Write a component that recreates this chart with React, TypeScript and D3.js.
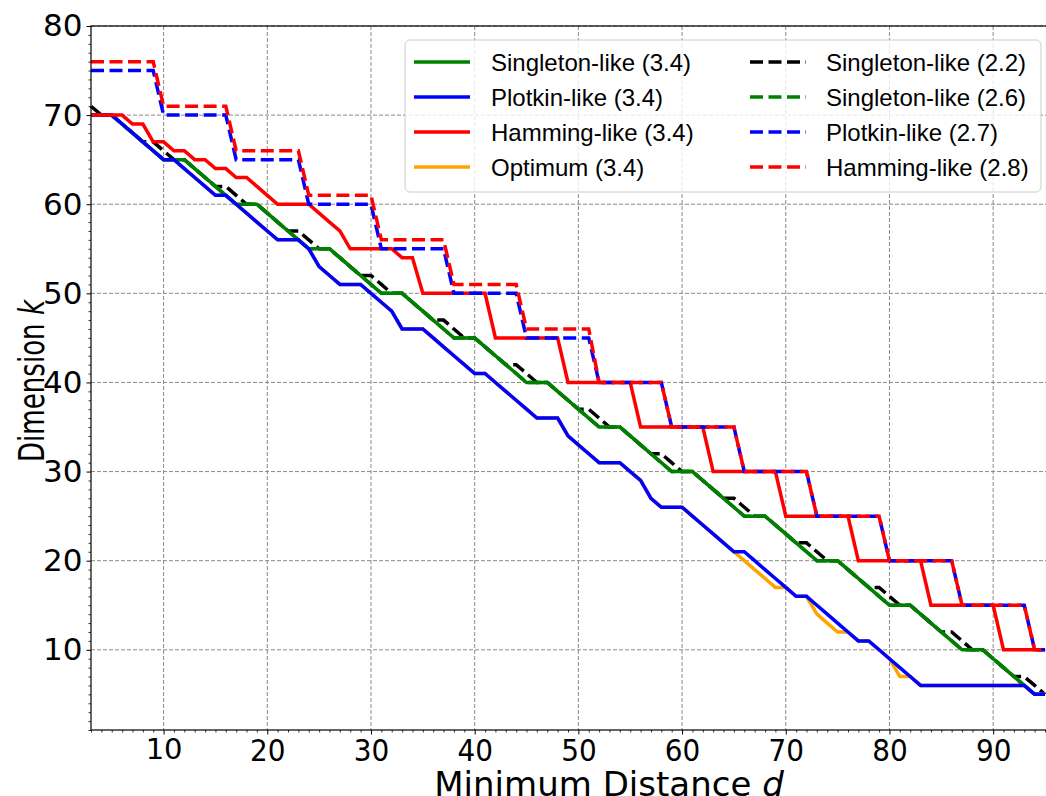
import React, { useEffect, useRef } from 'react';
import * as d3 from 'd3';

const width = 1046;
const height = 796;
const margin = { top: 26, left: 91, bottom: 730 };

// minimum distance d, one entry per point of every series
const distances = [
  3, 4, 5, 6, 7, 8, 9, 10, 11, 12, 13, 14, 15, 16, 17, 18, 19, 20, 21, 22, 23, 24, 25, 26, 27, 28, 29, 30, 31, 32,
  33, 34, 35, 36, 37, 38, 39, 40, 41, 42, 43, 44, 45, 46, 47, 48, 49, 50, 51, 52, 53, 54, 55, 56, 57, 58, 59, 60,
  61, 62, 63, 64, 65, 66, 67, 68, 69, 70, 71, 72, 73, 74, 75, 76, 77, 78, 79, 80, 81, 82, 83, 84, 85, 86, 87, 88,
  89, 90, 91, 92, 93, 94, 95
];

const singleton34 = [
  70, 70, 70, 69, 68, 67, 66, 65, 65, 65, 64, 63, 62, 61, 60, 60, 60, 59, 58, 57, 56, 55, 55, 55, 54, 53, 52, 51, 50, 50,
  50, 49, 48, 47, 46, 45, 45, 45, 44, 43, 42, 41, 40, 40, 40, 39, 38, 37, 36, 35, 35, 35, 34, 33, 32, 31, 30, 30,
  30, 29, 28, 27, 26, 25, 25, 25, 24, 23, 22, 21, 20, 20, 20, 19, 18, 17, 16, 15, 15, 15, 14, 13, 12, 11, 10, 10,
  10, 9, 8, 7, 6, 5, 5
];
const plotkin34 = [
  70, 70, 70, 69, 68, 67, 66, 65, 65, 64, 63, 62, 61, 61, 60, 59, 58, 57, 56, 56, 56, 55, 53, 52, 51, 51, 51, 50, 49, 48,
  46, 46, 46, 45, 44, 43, 42, 41, 41, 40, 39, 38, 37, 36, 36, 36, 34, 33, 32, 31, 31, 31, 30, 29, 27, 26, 26, 26,
  25, 24, 23, 22, 21, 21, 20, 19, 18, 17, 16, 16, 15, 14, 13, 12, 11, 11, 10, 9, 8, 7, 6, 6, 6, 6, 6, 6,
  6, 6, 6, 6, 6, 5, 5
];
const hamming34 = [
  70, 70, 70, 70, 69, 69, 67, 67, 66, 66, 65, 65, 64, 64, 63, 63, 62, 61, 60, 60, 60, 60, 59, 58, 57, 55, 55, 55, 55, 55,
  54, 54, 50, 50, 50, 50, 50, 50, 50, 45, 45, 45, 45, 45, 45, 45, 40, 40, 40, 40, 40, 40, 40, 35, 35, 35, 35, 35,
  35, 35, 30, 30, 30, 30, 30, 30, 30, 25, 25, 25, 25, 25, 25, 25, 20, 20, 20, 20, 20, 20, 20, 15, 15, 15, 15, 15,
  15, 15, 10, 10, 10, 10, 10
];
const optimum34 = [
  70, 70, 70, 69, 68, 67, 66, 65, 65, 64, 63, 62, 61, 61, 60, 59, 58, 57, 56, 56, 56, 55, 53, 52, 51, 51, 51, 50, 49, 48,
  46, 46, 46, 45, 44, 43, 42, 41, 41, 40, 39, 38, 37, 36, 36, 36, 34, 33, 32, 31, 31, 31, 30, 29, 27, 26, 26, 26,
  25, 24, 23, 22, 21, 20, 19, 18, 17, 17, 16, 16, 14, 13, 12, 12, 11, 11, 10, 9, 7, 7, 6, 6, 6, 6, 6, 6,
  6, 6, 6, 6, 6, 5, 5
];
const singleton22 = [
  71, 70, 70, 69, 68, 67, 67, 66, 65, 65, 64, 63, 62, 62, 61, 60, 60, 59, 58, 57, 57, 56, 55, 55, 54, 53, 52, 52, 51, 50,
  50, 49, 48, 47, 47, 46, 45, 45, 44, 43, 42, 42, 41, 40, 40, 39, 38, 37, 37, 36, 35, 35, 34, 33, 32, 32, 31, 30,
  30, 29, 28, 27, 27, 26, 25, 25, 24, 23, 22, 22, 21, 20, 20, 19, 18, 17, 17, 16, 15, 15, 14, 13, 12, 12, 11, 10,
  10, 9, 8, 7, 7, 6, 5
];
const singleton26 = [
  70, 70, 70, 69, 68, 67, 66, 65, 65, 65, 64, 63, 62, 61, 60, 60, 60, 59, 58, 57, 56, 55, 55, 55, 54, 53, 52, 51, 50, 50,
  50, 49, 48, 47, 46, 45, 45, 45, 44, 43, 42, 41, 40, 40, 40, 39, 38, 37, 36, 35, 35, 35, 34, 33, 32, 31, 30, 30,
  30, 29, 28, 27, 26, 25, 25, 25, 24, 23, 22, 21, 20, 20, 20, 19, 18, 17, 16, 15, 15, 15, 14, 13, 12, 11, 10, 10,
  10, 9, 8, 7, 6, 5, 5
];
const plotkin27 = [
  75, 75, 75, 75, 75, 75, 75, 70, 70, 70, 70, 70, 70, 70, 65, 65, 65, 65, 65, 65, 65, 60, 60, 60, 60, 60, 60, 60, 55, 55,
  55, 55, 55, 55, 55, 50, 50, 50, 50, 50, 50, 50, 45, 45, 45, 45, 45, 45, 45, 40, 40, 40, 40, 40, 40, 40, 35, 35,
  35, 35, 35, 35, 35, 30, 30, 30, 30, 30, 30, 30, 25, 25, 25, 25, 25, 25, 25, 20, 20, 20, 20, 20, 20, 20, 15, 15,
  15, 15, 15, 15, 15, 10, 10
];
const hamming28 = [
  76, 76, 76, 76, 76, 76, 76, 71, 71, 71, 71, 71, 71, 71, 66, 66, 66, 66, 66, 66, 66, 61, 61, 61, 61, 61, 61, 61, 56, 56,
  56, 56, 56, 56, 56, 51, 51, 51, 51, 51, 51, 51, 46, 46, 46, 46, 46, 46, 46, 40, 40, 40, 40, 40, 40, 40, 35, 35,
  35, 35, 35, 35, 35, 30, 30, 30, 30, 30, 30, 30, 25, 25, 25, 25, 25, 25, 25, 20, 20, 20, 20, 20, 20, 20, 15, 15,
  15, 15, 15, 15, 15, 10, 10
];

const xTicks = [10, 20, 30, 40, 50, 60, 70, 80, 90];
const yTicks = [10, 20, 30, 40, 50, 60, 70, 80];

// drawing order (bottom to top)
const series = [
  { name: 'Singleton-like (2.2)', values: singleton22, color: 'black', dashed: true },
  { name: 'Singleton-like (2.6)', values: singleton26, color: 'green', dashed: true },
  { name: 'Optimum (3.4)', values: optimum34, color: 'orange', dashed: false },
  { name: 'Singleton-like (3.4)', values: singleton34, color: 'green', dashed: false },
  { name: 'Plotkin-like (3.4)', values: plotkin34, color: 'blue', dashed: false },
  { name: 'Hamming-like (3.4)', values: hamming34, color: 'red', dashed: false },
  { name: 'Plotkin-like (2.7)', values: plotkin27, color: 'blue', dashed: true },
  { name: 'Hamming-like (2.8)', values: hamming28, color: 'red', dashed: true }
];

const legendCol1 = ['Singleton-like (3.4)', 'Plotkin-like (3.4)', 'Hamming-like (3.4)', 'Optimum (3.4)'];
const legendCol2 = ['Singleton-like (2.2)', 'Singleton-like (2.6)', 'Plotkin-like (2.7)', 'Hamming-like (2.8)'];

const lineWidth = 3.5;
const dash = '13,5.5';
const sansFont = '"Liberation Sans", Arial, sans-serif';
const narrowFont = '"Liberation Sans Narrow", "DejaVu Sans Condensed", sans-serif';
const dejavuFont = '"DejaVu Sans", sans-serif';

const x = d3.scaleLinear().domain([3, 95]).range([margin.left, 1045]);
const y = d3.scaleLinear().domain([1, 80]).range([margin.bottom, margin.top]);

export default function App() {
  const xAxisRef = useRef<SVGGElement>(null);
  const xMinorRef = useRef<SVGGElement>(null);
  const yAxisRef = useRef<SVGGElement>(null);
  const yMinorRef = useRef<SVGGElement>(null);

  useEffect(() => {
    const xAxis = d3.axisBottom(x).tickValues(xTicks).tickSize(4.5).tickPadding(4).tickFormat(d3.format('d'));
    d3.select(xAxisRef.current)
      .call(xAxis)
      .attr('font-family', narrowFont)
      .attr('font-size', 31)
      .call(g => g.select('.domain').remove())
      .call(g => g.selectAll('line').attr('stroke-width', 1));
    d3.select(xAxisRef.current)
      .selectAll<SVGTextElement, number>('text')
      .attr('fill', '#000')
      .style('font-stretch', 'condensed')
      .filter(d => d === 10)
      .attr('font-family', dejavuFont)
      .attr('font-size', 29)
      .style('font-stretch', 'normal');

    const xMinor = d3.axisBottom(x).tickValues(distances.filter(d => d % 10 !== 0)).tickSize(2.5).tickFormat(() => '');
    d3.select(xMinorRef.current)
      .call(xMinor)
      .call(g => g.select('.domain').remove())
      .call(g => g.selectAll('line').attr('stroke-width', 0.8));

    const yAxis = d3.axisLeft(y).tickValues(yTicks).tickSize(4.5).tickPadding(4).tickFormat(d3.format('d'));
    d3.select(yAxisRef.current)
      .call(yAxis)
      .attr('font-family', dejavuFont)
      .attr('font-size', 31)
      .call(g => g.select('.domain').remove())
      .call(g => g.selectAll('line').attr('stroke-width', 1));
    d3.select(yAxisRef.current).selectAll('text').attr('fill', '#000');

    const yMinor = d3.axisLeft(y).tickValues(d3.range(1, 81).filter(v => v % 10 !== 0)).tickSize(2.5).tickFormat(() => '');
    d3.select(yMinorRef.current)
      .call(yMinor)
      .call(g => g.select('.domain').remove())
      .call(g => g.selectAll('line').attr('stroke-width', 0.8));
  }, []);

  const line = (values: number[]) =>
    d3
      .line<number>()
      .x((_, i) => x(distances[i]))
      .y(v => y(v))(values) || '';

  const legendRow = (i: number) => 62 + i * 35;

  return (
    <svg width={width} height={height} style={{ position: 'absolute', left: 0, top: 0, background: '#fff' }}>
      <rect x={0} y={0} width={width} height={height} fill="#fff" />
      {/* grid */}
      <g stroke="#8a8a8a" strokeWidth={1} strokeDasharray="4,2">
        {xTicks.map(t => (
          <line key={'gx' + t} x1={x(t)} x2={x(t)} y1={margin.top} y2={margin.bottom} />
        ))}
        {yTicks.map(t => (
          <line key={'gy' + t} x1={margin.left} x2={width} y1={y(t)} y2={y(t)} />
        ))}
      </g>

      {/* series */}
      <g fill="none" strokeLinejoin="miter" strokeLinecap="butt">
        {series.map(s => (
          <path
            key={s.name}
            d={line(s.values)}
            stroke={s.color}
            strokeWidth={lineWidth}
            strokeDasharray={s.dashed ? dash : undefined}
          />
        ))}
      </g>

      {/* frame */}
      <rect x={margin.left} y={margin.top} width={1200} height={margin.bottom - margin.top} fill="none" stroke="#000" strokeWidth={1.2} />

      <g ref={xAxisRef} transform={`translate(0,${margin.bottom})`} />
      <g ref={xMinorRef} transform={`translate(0,${margin.bottom})`} />
      <g ref={yAxisRef} transform={`translate(${margin.left},0)`} />
      <g ref={yMinorRef} transform={`translate(${margin.left},0)`} />

      {/* axis labels */}
      <text x={609} y={796} textAnchor="middle" fontFamily={dejavuFont} fontSize={34} fill="#000">
        Minimum Distance <tspan fontStyle="italic">d</tspan>
      </text>
      <text
        transform={`translate(44,${(margin.top + margin.bottom) / 2 + 3}) rotate(-90)`}
        textAnchor="middle"
        fontFamily={narrowFont}
        fontSize={35}
        textLength={162}
        lengthAdjust="spacingAndGlyphs"
        style={{ fontStretch: 'condensed' }}
        fill="#000"
      >
        Dimension <tspan fontStyle="italic">k</tspan>
      </text>

      {/* legend */}
      <g>
        <rect x={405} y={40} width={636} height={152} rx={5} fill="#fff" fillOpacity={0.8} stroke="#cccccc" strokeWidth={1} />
        {legendCol1.map((name, i) => {
          const s = series.find(d => d.name === name)!;
          return (
            <g key={name}>
              <line x1={414} x2={470} y1={legendRow(i)} y2={legendRow(i)} stroke={s.color} strokeWidth={lineWidth} />
              <text x={491} y={legendRow(i)} dy="0.36em" fontFamily={sansFont} fontSize={24} fill="#000">
                {name}
              </text>
            </g>
          );
        })}
        {legendCol2.map((name, i) => {
          const s = series.find(d => d.name === name)!;
          return (
            <g key={name}>
              <line x1={750} x2={806} y1={legendRow(i)} y2={legendRow(i)} stroke={s.color} strokeWidth={lineWidth} strokeDasharray={dash} />
              <text x={826} y={legendRow(i)} dy="0.36em" fontFamily={sansFont} fontSize={24} fill="#000">
                {name}
              </text>
            </g>
          );
        })}
      </g>
    </svg>
  );
}
